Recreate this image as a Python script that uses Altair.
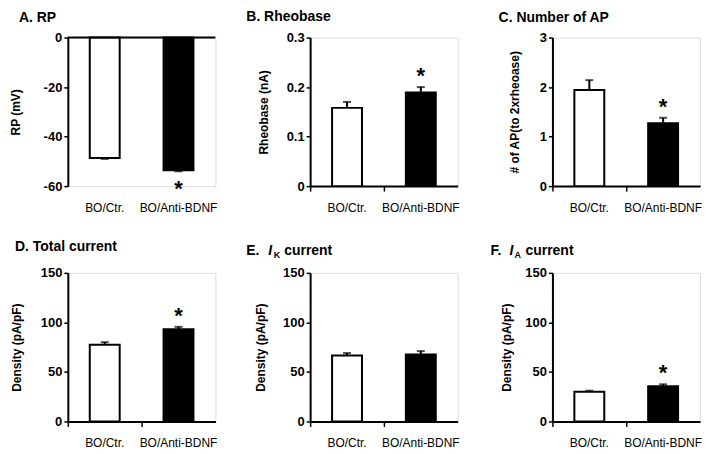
import altair as alt
import pandas as pd

FONT = "Liberation Sans"

groups = ["BO/Ctr.", "BO/Anti-BDNF"]
fills = ["white", "black"]

rp_mean = [-48.6, -53.6]
rp_err = [0.4, 0.4]
rp_star = ["", "*"]

rheo_mean = [0.158, 0.189]
rheo_err = [0.012, 0.011]
rheo_star = ["", "*"]

ap_mean = [1.94, 1.27]
ap_err = [0.20, 0.11]
ap_star = ["", "*"]

total_mean = [77.5, 93.0]
total_err = [2.5, 2.5]
total_star = ["", "*"]

ik_mean = [66.5, 67.5]
ik_err = [2.5, 3.5]
ik_star = ["", ""]

ia_mean = [30.0, 35.5]
ia_err = [1.0, 2.0]
ia_star = ["", "*"]

W, H = 148, 149


def title_layer(parts):
    layers = []
    for txt, px, py, size, style in parts:
        layers.append(
            alt.Chart(pd.DataFrame({"t": [txt]}))
            .mark_text(align="left", baseline="middle", font=FONT, fontSize=size,
                       fontWeight="bold", fontStyle=style, color="black")
            .encode(x=alt.value(px), y=alt.value(py), text="t:N")
        )
    return layers


def panel(mean, err, star, ydom, yticks, ytitle, tpad, tparts, negative=False):
    sign = -1 if negative else 1
    df = pd.DataFrame({
        "group": groups,
        "mean": mean,
        "end": [m + sign * e for m, e in zip(mean, err)],
        "fill": fills,
        "star": star,
    })
    base = alt.Chart(df)
    xax = alt.Axis(title=None, labelAngle=0, labelFontSize=12, labelFont=FONT,
                   labelColor="black", labelFontWeight="normal",
                   domain=not negative, domainColor="black", domainWidth=2,
                   ticks=not negative, tickColor="black", tickWidth=1.5, tickSize=5,
                   bandPosition=0, labelPadding=(16 if negative else 11))
    x = alt.X("group:N", sort=groups,
              scale=alt.Scale(paddingInner=0, paddingOuter=0), axis=xax)
    yax = alt.Axis(values=yticks, labelExpr="'' + datum.value", title=ytitle, grid=False,
                   labelFont=FONT, labelFontSize=13, labelFontWeight="bold",
                   labelColor="black", labelPadding=2,
                   domainColor="black", domainWidth=2,
                   tickColor="black", tickWidth=1.5, tickSize=4,
                   titleFont=FONT, titleFontSize=12, titleFontWeight="bold",
                   titleColor="black", titlePadding=tpad)
    y = alt.Y("mean:Q", scale=alt.Scale(domain=ydom, nice=False), axis=yax)
    bars = base.mark_bar(width=30, stroke="black", strokeWidth=2).encode(
        x=x, y=y, fill=alt.Fill("fill:N", scale=None))
    stem = base.mark_rule(stroke="black", strokeWidth=2).encode(
        x=alt.X("group:N", sort=groups), y=alt.Y("mean:Q"), y2="end:Q")
    cap = base.mark_tick(size=8, thickness=2, color="black").encode(
        x=alt.X("group:N", sort=groups), y=alt.Y("end:Q"))
    stars = base.mark_text(font=FONT, fontSize=22, fontWeight="bold", color="black",
                           baseline="alphabetic", dy=(25 if negative else -4)).encode(
        x=alt.X("group:N", sort=groups), y=alt.Y("end:Q"), text="star:N")
    layers = [bars, stem, cap, stars]
    if negative:
        zero = alt.Chart(pd.DataFrame({"z": [0]})).mark_rule(
            stroke="black", strokeWidth=2).encode(y=alt.Y("z:Q"))
        layers.append(zero)
    layers += title_layer(tparts)
    return alt.layer(*layers).properties(width=W, height=H)


A = panel(rp_mean, rp_err, rp_star, [-60, 0], [0, -20, -40, -60], "RP (mV)", 21,
          [("A. RP", -49, -20, 14, "normal")], negative=True)
B = panel(rheo_mean, rheo_err, rheo_star, [0, 0.3], [0, 0.1, 0.2, 0.3], "Rheobase (nA)", 16,
          [("B. Rheobase", -64, -21, 14, "normal")])
C = panel(ap_mean, ap_err, ap_star, [0, 3], [0, 1, 2, 3], "# of AP(to 2xrheoase)", 18,
          [("C. Number of AP", -54, -20, 14, "normal")])
D = panel(total_mean, total_err, total_star, [0, 150], [0, 50, 100, 150], "Density (pA/pF)", 17,
          [("D. Total current", -53, -26, 14, "normal")])
E = panel(ik_mean, ik_err, ik_star, [0, 150], [0, 50, 100, 150], "Density (pA/pF)", 15,
          [("E.", -64, -22, 14, "normal"), ("I", -42, -22, 14, "italic"),
           ("K", -36.5, -18, 9, "normal"), ("current", -26, -22, 14, "normal")])
F = panel(ia_mean, ia_err, ia_star, [0, 150], [0, 50, 100, 150], "Density (pA/pF)", 11,
          [("F.", -62, -22, 14, "normal"), ("I", -43, -22, 14, "italic"),
           ("A", -38, -18, 9, "normal"), ("current", -27, -22, 14, "normal")])

chart = alt.ConcatChart(
    concat=[A, B, C, D, E, F], columns=3,
    spacing={"row": 87, "column": 95}, bounds="flush",
).properties(padding=0).configure_view(stroke=None).configure(background="white")

chart.save("out.html", embed_options={"renderer": "svg", "actions": False})
